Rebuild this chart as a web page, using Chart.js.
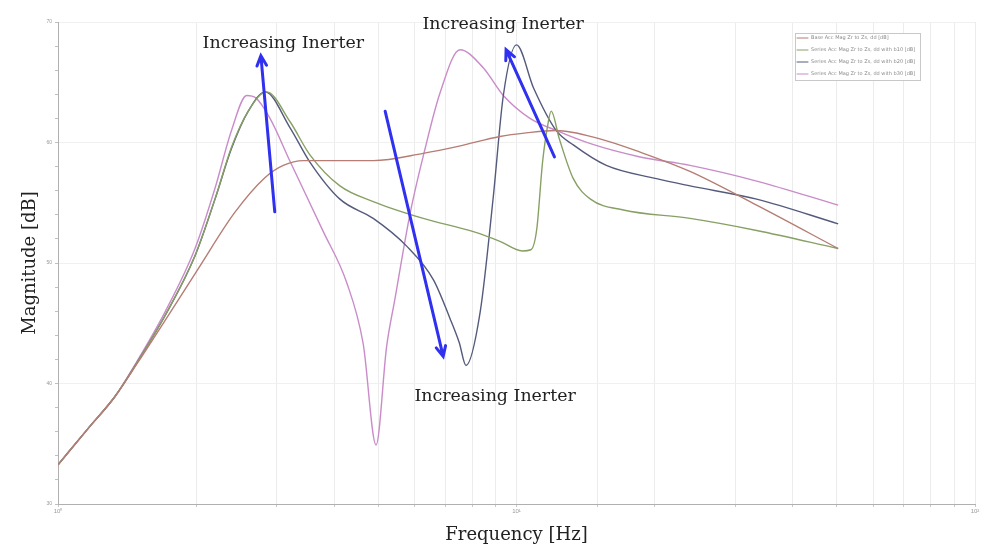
<!DOCTYPE html>
<html>
<head>
<meta charset="utf-8">
<script src="https://cdn.jsdelivr.net/npm/chart.js@4/dist/chart.umd.min.js"></script>
<style>
html,body{margin:0;padding:0;background:#fff;}
#wrap{width:989px;height:550px;position:relative;}
</style>
</head>
<body>
<div id="wrap"><canvas id="c" width="989" height="550"></canvas></div>
<script>
// ---- data (frequency in Hz, magnitude in dB) ----
const seriesLabels = [
  "Base Acc Mag Zr to Zs, dd [dB]",
  "Series Acc Mag Zr to Zs, dd with b10 [dB]",
  "Series Acc Mag Zr to Zs, dd with b20 [dB]",
  "Series Acc Mag Zr to Zs, dd with b30 [dB]"
];
const freqBase = [1, 1.165, 1.33, 1.485, 1.71, 2.02, 2.43, 2.83, 3.1, 3.43, 4.0, 4.87, 6.26, 7.5, 9.2, 10.5, 12.2, 15.2, 18.6, 23.9, 33.4, 50.3];
const magBase  = [33.25, 36.3, 38.9, 41.6, 45.2, 49.5, 54.2, 57.1, 58.1, 58.5, 58.5, 58.5, 59.1, 59.7, 60.5, 60.8, 61.0, 60.3, 59.2, 57.6, 54.8, 51.2];

const freqB10 = [1, 1.165, 1.33, 1.485, 1.71, 1.99, 2.2, 2.39, 2.6, 2.85, 3.21, 3.54, 4.12, 4.87, 6.26, 8.05, 9.2, 10.3, 10.75, 11.07, 11.4, 11.73, 11.9, 12.4, 13.3, 14.5, 17.1, 23.9, 33.4, 50.3];
const magB10  = [33.25, 36.3, 38.9, 41.7, 45.6, 50.6, 55.3, 59.6, 62.6, 64.2, 61.7, 59.0, 56.4, 55.1, 53.7, 52.6, 51.8, 51.0, 51.1, 52.8, 58.4, 61.7, 62.6, 60.3, 57.0, 55.3, 54.4, 53.7, 52.7, 51.2];

const freqB20 = [1, 1.165, 1.33, 1.485, 1.71, 1.99, 2.2, 2.39, 2.6, 2.83, 3.21, 3.54, 4.12, 4.87, 5.76, 6.59, 7.16, 7.5, 7.76, 8.33, 8.9, 9.36, 10.0, 10.9, 12.2, 13.3, 15.7, 20.2, 23.9, 33.4, 50.3];
const magB20  = [33.25, 36.3, 38.9, 41.7, 45.6, 50.6, 55.3, 59.5, 62.6, 64.2, 61.2, 58.4, 55.3, 53.7, 51.4, 48.6, 45.4, 43.4, 41.5, 45.9, 55.5, 63.9, 68.1, 64.5, 61.0, 59.8, 58.1, 57.0, 56.4, 55.3, 53.25];

const freqB30 = [1, 1.165, 1.33, 1.485, 1.71, 1.99, 2.2, 2.39, 2.58, 2.7, 2.9, 3.21, 3.79, 4.26, 4.63, 4.94, 5.21, 5.43, 5.86, 6.32, 6.81, 7.53, 8.46, 9.36, 10.7, 12.2, 14.5, 18.6, 23.9, 33.4, 50.3];
const magB30  = [33.25, 36.3, 38.9, 41.8, 45.9, 51.2, 56.2, 61.0, 63.9, 63.7, 62.0, 58.4, 52.6, 48.4, 43.3, 34.9, 43.1, 47.0, 54.1, 59.5, 64.1, 67.7, 66.2, 63.9, 62.0, 61.0, 59.9, 58.8, 58.1, 56.8, 54.8];

const xTickLabels = {1: "10⁰", 10: "10¹", 100: "10²"};
const yTickLabels = [30, 40, 50, 60, 70];

// annotations in data units: text anchor, arrow start -> arrow tip
const annoText = "Increasing Inerter";
const annoLabels = [ {f: 3.10, v: 68.2}, {f: 9.35, v: 69.8}, {f: 8.98, v: 38.9} ];
const annoArrows = [
  {f1: 2.97, v1: 54.25, f2: 2.77, v2: 67.2},
  {f1: 5.17, v1: 62.6,  f2: 6.92, v2: 42.25},
  {f1: 12.1, v1: 58.8,  f2: 9.49, v2: 67.7}
];

const colors = ["#b57d74", "#87a064", "#545a7c", "#c98cc9"];
const pairs = [[freqBase, magBase], [freqB10, magB10], [freqB20, magB20], [freqB30, magB30]];

const datasets = pairs.map((p, i) => ({
  label: seriesLabels[i],
  data: p[0].map((f, k) => ({x: f, y: p[1][k]})),
  borderColor: colors[i],
  backgroundColor: colors[i],
  borderWidth: 1.4,
  pointRadius: 0,
  cubicInterpolationMode: 'monotone',
  fill: false
}));

const SERIF = '"DejaVu Serif", "Liberation Serif", serif';

const overlay = {
  id: 'overlay',
  afterDraw(chart) {
    const ctx = chart.ctx, xs = chart.scales.x, ys = chart.scales.y, ca = chart.chartArea;
    ctx.save();
    // axis titles
    ctx.fillStyle = '#222';
    ctx.font = '18px ' + SERIF;
    ctx.textAlign = 'center';
    ctx.textBaseline = 'middle';
    ctx.fillText('Frequency [Hz]', (ca.left + ca.right) / 2, 535);
    ctx.save();
    ctx.translate(30, (ca.top + ca.bottom) / 2);
    ctx.rotate(-Math.PI / 2);
    ctx.fillText('Magnitude [dB]', 0, 0);
    ctx.restore();
    // annotation texts
    ctx.font = '17.4px ' + SERIF;
    annoLabels.forEach(a => {
      ctx.fillText(annoText, xs.getPixelForValue(a.f), ys.getPixelForValue(a.v));
    });
    // arrows
    ctx.strokeStyle = '#3030f0';
    ctx.lineWidth = 3;
    ctx.lineCap = 'round';
    annoArrows.forEach(a => {
      const x1 = xs.getPixelForValue(a.f1), y1 = ys.getPixelForValue(a.v1);
      const x2 = xs.getPixelForValue(a.f2), y2 = ys.getPixelForValue(a.v2);
      const ang = Math.atan2(y2 - y1, x2 - x1);
      ctx.beginPath();
      ctx.moveTo(x1, y1); ctx.lineTo(x2, y2);
      const L = 11, sp = 0.45;
      ctx.moveTo(x2 - L * Math.cos(ang - sp), y2 - L * Math.sin(ang - sp));
      ctx.lineTo(x2, y2);
      ctx.lineTo(x2 - L * Math.cos(ang + sp), y2 - L * Math.sin(ang + sp));
      ctx.stroke();
    });
    // legend box
    const bx = 795, by = 33, bw = 125, bh = 47;
    ctx.fillStyle = '#fff';
    ctx.fillRect(bx, by, bw, bh);
    ctx.strokeStyle = '#c8c8c8';
    ctx.lineWidth = 1;
    ctx.strokeRect(bx + 0.5, by + 0.5, bw, bh);
    ctx.font = '5px "DejaVu Sans", sans-serif';
    ctx.textAlign = 'left';
    chart.data.datasets.forEach((d, i) => {
      const ry = by + 5 + i * 12;
      ctx.strokeStyle = d.borderColor;
      ctx.lineWidth = 1;
      ctx.beginPath(); ctx.moveTo(bx + 2, ry); ctx.lineTo(bx + 13, ry); ctx.stroke();
      ctx.fillStyle = '#8a8a8a';
      ctx.fillText(d.label, bx + 16, ry);
    });
    ctx.restore();
  }
};

new Chart(document.getElementById('c'), {
  type: 'line',
  data: { datasets },
  plugins: [overlay],
  options: {
    responsive: false,
    animation: false,
    layout: { padding: { top: 22, right: 14, left: 0, bottom: 0 } },
    plugins: { legend: { display: false }, tooltip: { enabled: false } },
    scales: {
      x: {
        type: 'logarithmic', min: 1, max: 100,
        afterFit: s => { s.height = 46; },
        ticks: {
          autoSkip: false, maxRotation: 0, color: '#999',
          font: { size: 6 }, padding: 1,
          callback: v => xTickLabels[v] || ''
        },
        grid: { color: '#ececec', tickColor: '#c8c8c8', tickLength: 3 },
        border: { color: '#b0b0b0' }
      },
      y: {
        min: 30, max: 70,
        afterFit: s => { s.width = 58; },
        ticks: {
          stepSize: 2, color: '#999', font: { size: 5 }, padding: 3,
          callback: v => yTickLabels.includes(v) ? String(v) : ''
        },
        grid: {
          color: c => (c.tick && c.tick.value % 10 === 0) ? '#f0f0f0' : 'rgba(0,0,0,0)',
          tickColor: '#c0c0c0', tickLength: 3
        },
        border: { color: '#b0b0b0' }
      }
    }
  }
});
</script>
</body>
</html>
